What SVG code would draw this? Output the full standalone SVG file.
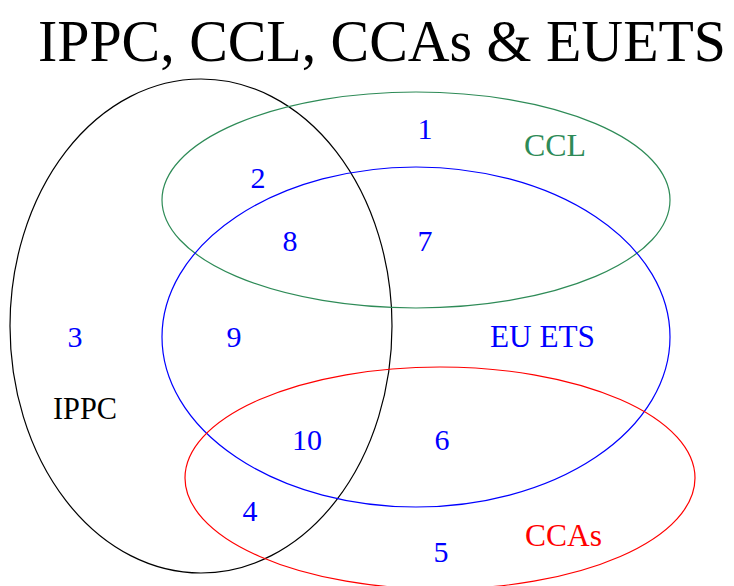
<svg xmlns="http://www.w3.org/2000/svg" width="734" height="586" viewBox="0 0 734 586">
  <style>
    .set { fill: none; stroke-width: 1.2; }
    .num { font-family: "Liberation Serif", "Times New Roman", serif; font-size: 30px; fill: #0000ff; text-anchor: middle; }
    .lbl { font-family: "Liberation Serif", "Times New Roman", serif; font-size: 31px; }
    .title { font-family: "Liberation Serif", "Times New Roman", serif; font-size: 52px; fill: #000; }
  </style>
  <rect width="734" height="586" fill="#fff"/>
  <!-- heading: tall, narrow serif lettering -->
  <text class="title" transform="translate(38 61) scale(1 1.15)" x="0" y="0" textLength="688" lengthAdjust="spacingAndGlyphs">IPPC, CCL, CCAs &amp; EUETS</text>

  <g id="ippc">
    <ellipse class="set" cx="201" cy="326" rx="191" ry="247" stroke="#000"/>
    <text class="lbl" x="53" y="419" fill="#000" font-size="28" textLength="64" lengthAdjust="spacingAndGlyphs">IPPC</text>
  </g>
  <g id="ccl">
    <ellipse class="set" cx="416" cy="200" rx="254" ry="108" stroke="#2e8b57"/>
    <text class="lbl" x="524" y="156" fill="#2e8b57" textLength="62" lengthAdjust="spacingAndGlyphs">CCL</text>
  </g>
  <g id="euets">
    <ellipse class="set" cx="416" cy="337" rx="254" ry="170" stroke="#0000ff"/>
    <text class="lbl" x="490" y="347" fill="#0000ff" textLength="105" lengthAdjust="spacingAndGlyphs">EU ETS</text>
  </g>
  <g id="ccas">
    <ellipse class="set" cx="440" cy="478" rx="255" ry="111" stroke="#ff0000"/>
    <text class="lbl" x="525" y="546" fill="#ff0000" textLength="77" lengthAdjust="spacingAndGlyphs">CCAs</text>
  </g>

  <g id="regions">
    <text class="num" x="425" y="139">1</text>
    <text class="num" x="258" y="188">2</text>
    <text class="num" x="75" y="347">3</text>
    <text class="num" x="250" y="521">4</text>
    <text class="num" x="441" y="562">5</text>
    <text class="num" x="442" y="450">6</text>
    <text class="num" x="425" y="251">7</text>
    <text class="num" x="290" y="251">8</text>
    <text class="num" x="234" y="347">9</text>
    <text class="num" x="307" y="450">10</text>
  </g>
  <g id="connectors"/>
</svg>
